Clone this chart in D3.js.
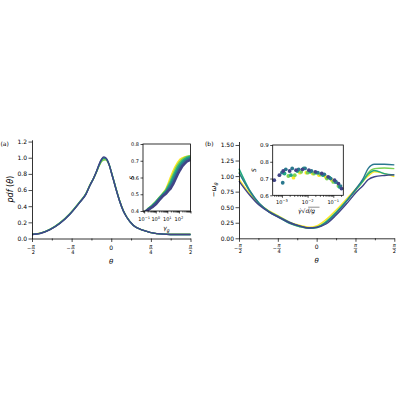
<!DOCTYPE html>
<html><head><meta charset="utf-8">
<script src="https://cdn.jsdelivr.net/npm/d3@7"></script>
<style>
body{margin:0;background:#fff}
svg{display:block}
text{font-family:"DejaVu Sans",sans-serif;fill:#000}
</style>
</head><body>
<svg id="c" width="400" height="400"></svg>
<script>
// ---------------- DATA ----------------
const seriesColors = ["#fde725", "#7ad151", "#22a884", "#2a788e", "#414487"]; // yellow, light green, green-teal, teal, purple

// Panel (a): pdf(theta)
const thetaA = [-1.571, -1.41, -1.21, -1.02, -0.82, -0.62, -0.50, -0.42, -0.35, -0.29, -0.24, -0.19, -0.15, -0.11, -0.07, -0.03, 0.0, 0.05, 0.09, 0.17, 0.24, 0.31, 0.44, 0.64, 0.90, 1.17, 1.571];
const pdfYellow     = [0.052, 0.065, 0.114, 0.19, 0.305, 0.455, 0.555, 0.664, 0.745, 0.826, 0.90, 0.958, 0.978, 0.978, 0.95, 0.89, 0.825, 0.715, 0.625, 0.46, 0.343, 0.263, 0.16, 0.10, 0.06, 0.052, 0.052];
const pdfLightGreen = [0.05, 0.066, 0.116, 0.195, 0.31, 0.46, 0.56, 0.668, 0.748, 0.828, 0.90, 0.955, 0.972, 0.975, 0.95, 0.893, 0.83, 0.72, 0.63, 0.462, 0.345, 0.265, 0.165, 0.10, 0.06, 0.05, 0.05];
const pdfGreenTeal  = [0.05, 0.064, 0.113, 0.19, 0.305, 0.455, 0.555, 0.663, 0.745, 0.83, 0.908, 0.97, 0.992, 0.99, 0.957, 0.893, 0.826, 0.716, 0.625, 0.458, 0.342, 0.262, 0.16, 0.10, 0.06, 0.05, 0.05];
const pdfTeal       = [0.05, 0.063, 0.112, 0.187, 0.30, 0.45, 0.55, 0.66, 0.745, 0.833, 0.915, 0.978, 1.0, 0.995, 0.958, 0.892, 0.823, 0.713, 0.622, 0.456, 0.34, 0.26, 0.16, 0.10, 0.06, 0.05, 0.05];
const pdfPurple     = [0.05, 0.062, 0.11, 0.185, 0.30, 0.45, 0.55, 0.66, 0.745, 0.835, 0.92, 0.985, 1.01, 1.0, 0.96, 0.89, 0.82, 0.71, 0.62, 0.455, 0.34, 0.26, 0.16, 0.10, 0.06, 0.05, 0.05];

// Panel (a) inset: S vs gamma_g (log10 of gamma_g)
const logGammaG = [-0.9, -0.6, -0.3, 0.0, 0.3, 0.6, 0.9, 1.1, 1.3, 1.5, 1.7, 1.9, 2.1, 2.3, 2.5, 2.7, 2.9, 3.0];
const sYellowA     = [0.395, 0.414, 0.43, 0.451, 0.476, 0.50, 0.528, 0.562, 0.598, 0.632, 0.662, 0.686, 0.705, 0.714, 0.72, 0.722, 0.72, 0.716];
const sLightGreenA = [0.395, 0.415, 0.432, 0.452, 0.477, 0.50, 0.524, 0.552, 0.58, 0.614, 0.645, 0.672, 0.692, 0.706, 0.716, 0.723, 0.727, 0.726];
const sGreenTealA  = [0.395, 0.414, 0.43, 0.45, 0.474, 0.497, 0.518, 0.542, 0.566, 0.598, 0.628, 0.657, 0.678, 0.696, 0.707, 0.716, 0.721, 0.723];
const sTealA       = [0.395, 0.412, 0.427, 0.447, 0.47, 0.493, 0.512, 0.532, 0.552, 0.58, 0.61, 0.638, 0.662, 0.681, 0.696, 0.706, 0.713, 0.716];
const sPurpleA     = [0.395, 0.41, 0.423, 0.44, 0.465, 0.488, 0.505, 0.522, 0.536, 0.56, 0.59, 0.62, 0.645, 0.668, 0.683, 0.696, 0.702, 0.706];

// Panel (b): -omega_theta
const thetaB = [-1.571, -1.36, -1.16, -0.96, -0.75, -0.55, -0.35, -0.15, 0.0, 0.19, 0.39, 0.60, 0.80, 0.94, 1.04, 1.17, 1.37, 1.571];
const wYellow     = [0.95, 0.72, 0.55, 0.44, 0.35, 0.26, 0.21, 0.18, 0.20, 0.30, 0.45, 0.63, 0.80, 0.92, 1.00, 1.07, 1.04, 0.99];
const wLightGreen = [1.07, 0.76, 0.55, 0.43, 0.34, 0.25, 0.19, 0.165, 0.18, 0.27, 0.42, 0.60, 0.78, 0.92, 1.05, 1.12, 1.13, 1.12];
const wGreenTeal  = [1.12, 0.78, 0.56, 0.42, 0.33, 0.24, 0.19, 0.16, 0.17, 0.26, 0.41, 0.60, 0.79, 0.93, 1.03, 1.09, 1.04, 1.02];
const wTeal       = [1.05, 0.77, 0.56, 0.43, 0.34, 0.26, 0.20, 0.17, 0.18, 0.25, 0.40, 0.59, 0.80, 0.96, 1.12, 1.19, 1.19, 1.18];
const wPurple     = [0.92, 0.70, 0.53, 0.42, 0.33, 0.25, 0.20, 0.165, 0.175, 0.23, 0.37, 0.55, 0.74, 0.85, 0.94, 0.99, 1.01, 1.02];

// Panel (b) inset: S vs gamma_dot*sqrt(d/g) (log10 values)
const logGdYellow = [-2.55, -2.3, -2.05, -1.8, -1.55, -1.3, -1.05];
const sGdYellow   = [0.705, 0.735, 0.735, 0.73, 0.72, 0.71, 0.69];
const logGdLightGreen = [-2.75, -2.5, -2.25, -2.0, -1.75, -1.5, -1.25, -1.0, -0.8];
const sGdLightGreen   = [0.715, 0.72, 0.74, 0.735, 0.73, 0.725, 0.70, 0.68, 0.655];
const logGdGreenTeal = [-2.9, -2.65, -2.4, -2.15, -1.9, -1.65, -1.4, -1.15, -0.9, -0.75];
const sGdGreenTeal   = [0.73, 0.72, 0.745, 0.76, 0.74, 0.735, 0.72, 0.705, 0.68, 0.65];
const logGdTeal = [-3.0, -2.97, -2.85, -2.6, -2.35, -2.1, -1.85, -1.6, -1.35, -1.1, -0.9, -0.72];
const sGdTeal   = [0.735, 0.675, 0.755, 0.76, 0.755, 0.76, 0.745, 0.735, 0.725, 0.70, 0.68, 0.655];
const logGdPurple = [-3.3, -3.1, -2.95, -2.7, -2.45, -2.2, -1.95, -1.7, -1.45, -1.2, -0.95, -0.8, -0.68];
const sGdPurple   = [0.69, 0.72, 0.745, 0.745, 0.75, 0.755, 0.75, 0.74, 0.73, 0.71, 0.69, 0.67, 0.64];

// Tick labels
const thetaTickValues = [-Math.PI/2, -Math.PI/4, 0, Math.PI/4, Math.PI/2];
const thetaTickLabels = ["−π/2", "−π/4", "0", "π/4", "π/2"];
const thetaMinorTicks = [-3*Math.PI/8, -Math.PI/8, Math.PI/8, 3*Math.PI/8];
const pdfTicks = [0.0, 0.2, 0.4, 0.6, 0.8, 1.0, 1.2];
const omegaTicks = [0.00, 0.25, 0.50, 0.75, 1.00, 1.25, 1.50];
const insetATicksY = [0.4, 0.5, 0.6, 0.7, 0.8];
const insetAExponents = [-1, 0, 1, 2];
const insetBTicksY = [0.6, 0.7, 0.8, 0.9];
const insetBExponents = [-3, -2, -1];

// ---------------- DRAWING ----------------
const svg = d3.select("#c");
const TICK_FS = 6, INSET_FS = 5, LABEL_FS = 7;

function fracLabels(g, x, yTop, values, labels) {
  values.forEach((v, i) => {
    const lab = labels[i];
    const cx = x(v);
    if (!lab.includes("/")) {
      g.append("text").attr("x", cx).attr("y", yTop + 6.5).attr("text-anchor", "middle")
        .attr("font-size", TICK_FS).text(lab);
      return;
    }
    const neg = lab.startsWith("−");
    const [num, den] = lab.replace("−", "").split("/");
    const fx = neg ? cx + 1.3 : cx;
    g.append("text").attr("x", fx).attr("y", yTop + 4.6).attr("text-anchor", "middle")
      .attr("font-size", 5).attr("font-style", "italic").text(num);
    g.append("line").attr("x1", fx - 1.8).attr("x2", fx + 1.8).attr("y1", yTop + 5.6).attr("y2", yTop + 5.6)
      .attr("stroke", "#000").attr("stroke-width", 0.45);
    g.append("text").attr("x", fx).attr("y", yTop + 10.6).attr("text-anchor", "middle")
      .attr("font-size", 5).text(den);
    if (neg) g.append("text").attr("x", fx - 2.1).attr("y", yTop + 7.4).attr("text-anchor", "end")
      .attr("font-size", 5).text("−");
  });
}

function styleAxis(g) {
  g.select(".domain").attr("stroke", "#000").attr("stroke-width", 0.8);
  g.selectAll(".tick line").attr("stroke", "#000").attr("stroke-width", 0.7);
}

function mainPanel(opts) {
  const { x0, x1, yBottom, yTop, ymax, yTicks, yFmt, series, thetas, curve, tag, tagX, ylabel, ylabelX } = opts;
  const x = d3.scaleLinear().domain([-Math.PI/2, Math.PI/2]).range([x0, x1]);
  const y = d3.scaleLinear().domain([0, ymax]).range([yBottom, yTop]);
  const g = svg.append("g");
  const line = d3.line().x((d, i) => x(thetas[i])).y(d => y(d)).curve(curve);
  series.forEach((s, k) => {
    g.append("path").datum(s).attr("d", line).attr("fill", "none")
      .attr("stroke", seriesColors[k]).attr("stroke-width", 1.4).attr("stroke-linejoin", "round");
  });
  const ax = g.append("g").attr("transform", `translate(0,${yBottom})`)
    .call(d3.axisBottom(x).tickValues(thetaTickValues).tickFormat("").tickSize(3.5).tickSizeOuter(0));
  styleAxis(ax);
  const axm = g.append("g").attr("transform", `translate(0,${yBottom})`)
    .call(d3.axisBottom(x).tickValues(thetaMinorTicks).tickFormat("").tickSize(2).tickSizeOuter(0));
  styleAxis(axm); axm.select(".domain").remove();
  fracLabels(g, x, yBottom + 4.5, thetaTickValues, thetaTickLabels);
  const ay = g.append("g").attr("transform", `translate(${x0},0)`)
    .call(d3.axisLeft(y).tickValues(yTicks).tickFormat(yFmt).tickSize(3.5).tickSizeOuter(0).tickPadding(1.5));
  styleAxis(ay);
  ay.selectAll(".tick text").attr("font-size", TICK_FS).attr("font-family", "DejaVu Sans").attr("fill", "#000");
  g.append("text").attr("x", (x0 + x1) / 2).attr("y", yBottom + 25).attr("text-anchor", "middle")
    .attr("font-size", LABEL_FS).attr("font-style", "italic").text("θ");
  g.append("text").attr("x", tagX).attr("y", 145.5).attr("font-size", TICK_FS).text(tag);
  const yl = g.append("text").attr("transform", `translate(${ylabelX},${(yBottom + yTop) / 2}) rotate(-90)`)
    .attr("text-anchor", "middle").attr("font-size", LABEL_FS);
  ylabel(yl);
  return g;
}

// Panel (a)
mainPanel({
  x0: 32, x1: 190.5, yBottom: 238.5, yTop: 139.8, ymax: 1.222,
  yTicks: pdfTicks, yFmt: d3.format(".1f"),
  series: [pdfYellow, pdfLightGreen, pdfGreenTeal, pdfTeal, pdfPurple], thetas: thetaA,
  curve: d3.curveMonotoneX, tag: "(a)", tagX: 0.5, ylabelX: 13,
  ylabel: t => {
    t.attr("font-size", 8);
    t.append("tspan").attr("font-style", "italic").text("pdf");
    t.append("tspan").text(" (");
    t.append("tspan").attr("font-style", "italic").text("θ");
    t.append("tspan").text(")");
  }
});

// Panel (b)
mainPanel({
  x0: 239, x1: 394.3, yBottom: 238.3, yTop: 141.5, ymax: 1.556,
  yTicks: omegaTicks, yFmt: d3.format(".2f"),
  series: [wYellow, wLightGreen, wGreenTeal, wTeal, wPurple], thetas: thetaB,
  curve: d3.curveMonotoneX, tag: "(b)", tagX: 205, ylabelX: 216,
  ylabel: t => { t.append("tspan").text("−"); t.append("tspan").attr("font-style", "italic").text("ω"); t.append("tspan").attr("font-style","italic").attr("font-size", 5).attr("dy", 1.5).text("θ"); }
});

function logAxisTicks(g, x, yPos, lo, hi) {
  const major = [], minor = [];
  for (let e = Math.floor(lo); e <= Math.ceil(hi); e++) {
    for (let m = 1; m <= 9; m++) {
      const v = m * Math.pow(10, e);
      const lv = Math.log10(v);
      if (lv < lo - 1e-9 || lv > hi + 1e-9) continue;
      (m === 1 ? major : minor).push(v);
    }
  }
  const a1 = g.append("g").attr("transform", `translate(0,${yPos})`)
    .call(d3.axisBottom(x).tickValues(major).tickFormat("").tickSize(2.5).tickSizeOuter(0));
  styleAxis(a1); a1.select(".domain").remove();
  const a2 = g.append("g").attr("transform", `translate(0,${yPos})`)
    .call(d3.axisBottom(x).tickValues(minor).tickFormat("").tickSize(1.5).tickSizeOuter(0));
  styleAxis(a2); a2.select(".domain").remove();
}

function expLabels(g, x, yBase, exps) {
  exps.forEach(e => {
    const t = g.append("text").attr("x", x(Math.pow(10, e))).attr("y", yBase).attr("text-anchor", "middle")
      .attr("font-size", INSET_FS);
    t.append("tspan").text("10");
    t.append("tspan").attr("font-size", 3.6).attr("dy", -2).text(e < 0 ? "−" + (-e) : String(e));
  });
}

function insetFrame(g, L, R, T, B) {
  g.append("rect").attr("x", L).attr("y", T).attr("width", R - L).attr("height", B - T)
    .attr("fill", "#fff").attr("stroke", "none");
}
function insetBorder(g, L, R, T, B) {
  g.append("rect").attr("x", L).attr("y", T).attr("width", R - L).attr("height", B - T)
    .attr("fill", "none").attr("stroke", "#000").attr("stroke-width", 0.8);
}

// Inset (a)
{
  const L = 143, R = 190.5, T = 144, B = 211;
  const lo = -1.1, hi = 3.0;
  const g = svg.append("g");
  insetFrame(g, L, R, T, B);
  const x = d3.scaleLog().domain([Math.pow(10, lo), Math.pow(10, hi)]).range([L, R]);
  const y = d3.scaleLinear().domain([0.4, 0.8]).range([B, T]);
  g.append("clipPath").attr("id", "clipA").append("rect").attr("x", L).attr("y", T).attr("width", R - L).attr("height", B - T);
  const pg = g.append("g").attr("clip-path", "url(#clipA)");
  const line = d3.line().x((d, i) => x(Math.pow(10, logGammaG[i]))).y(d => y(d));
  [sYellowA, sLightGreenA, sGreenTealA, sTealA, sPurpleA].forEach((s, k) => {
    pg.append("path").datum(s).attr("d", line).attr("fill", "none")
      .attr("stroke", seriesColors[k]).attr("stroke-width", 2.6).attr("stroke-linejoin", "round");
  });
  insetBorder(g, L, R, T, B);
  logAxisTicks(g, x, B, lo, hi);
  expLabels(g, x, B + 10, insetAExponents);
  const ay = g.append("g").attr("transform", `translate(${L},0)`)
    .call(d3.axisLeft(y).tickValues(insetATicksY).tickFormat(d3.format(".1f")).tickSize(2.5).tickSizeOuter(0).tickPadding(1.5));
  styleAxis(ay); ay.select(".domain").remove();
  ay.selectAll(".tick text").attr("font-size", INSET_FS).attr("font-family", "DejaVu Sans").attr("fill", "#000");
  const xl = g.append("text").attr("x", 166.5).attr("y", 230).attr("text-anchor", "middle").attr("font-size", 6);
  xl.append("tspan").attr("font-style", "italic").text("γ");
  xl.append("tspan").attr("font-style", "italic").attr("font-size", 4.5).attr("dy", 1.5).text("g");
  g.append("text").attr("transform", `translate(133.5,${(T + B) / 2}) rotate(-90)`).attr("text-anchor", "middle")
    .attr("font-size", 6).attr("font-style", "italic").text("S");
}

// Inset (b)
{
  const L = 272.7, R = 343.3, T = 145, B = 195.3;
  const lo = -3.36, hi = -0.61;
  const g = svg.append("g");
  insetFrame(g, L, R, T, B);
  const x = d3.scaleLog().domain([Math.pow(10, lo), Math.pow(10, hi)]).range([L, R]);
  const y = d3.scaleLinear().domain([0.6, 0.9]).range([B, T]);
  const pts = [[logGdYellow, sGdYellow], [logGdLightGreen, sGdLightGreen], [logGdGreenTeal, sGdGreenTeal], [logGdTeal, sGdTeal], [logGdPurple, sGdPurple]];
  pts.forEach(([lx, sv], k) => {
    g.append("g").selectAll("circle").data(sv).join("circle")
      .attr("cx", (d, i) => x(Math.pow(10, lx[i]))).attr("cy", d => y(d)).attr("r", 1.9)
      .attr("fill", seriesColors[k]);
  });
  insetBorder(g, L, R, T, B);
  logAxisTicks(g, x, B, lo, hi);
  expLabels(g, x, B + 8.5, insetBExponents);
  const ay = g.append("g").attr("transform", `translate(${L},0)`)
    .call(d3.axisLeft(y).tickValues(insetBTicksY).tickFormat(d3.format(".1f")).tickSize(2.5).tickSizeOuter(0).tickPadding(1.5));
  styleAxis(ay); ay.select(".domain").remove();
  ay.selectAll(".tick text").attr("font-size", INSET_FS + 0.5).attr("font-family", "DejaVu Sans").attr("fill", "#000");
  const xl = g.append("text").attr("x", 298).attr("y", 213).attr("font-size", 6);
  xl.append("tspan").attr("font-style", "italic").text("γ̇");
  xl.append("tspan").text("√");
  xl.append("tspan").attr("font-style", "italic").text("d/g");
  g.append("line").attr("x1", 308.2).attr("x2", 319.5).attr("y1", 207.2).attr("y2", 207.2)
    .attr("stroke", "#000").attr("stroke-width", 0.45);
  g.append("text").attr("transform", `translate(256,${(T + B) / 2}) rotate(-90)`).attr("text-anchor", "middle")
    .attr("font-size", 6).attr("font-style", "italic").text("S");
}
</script>
</body></html>
